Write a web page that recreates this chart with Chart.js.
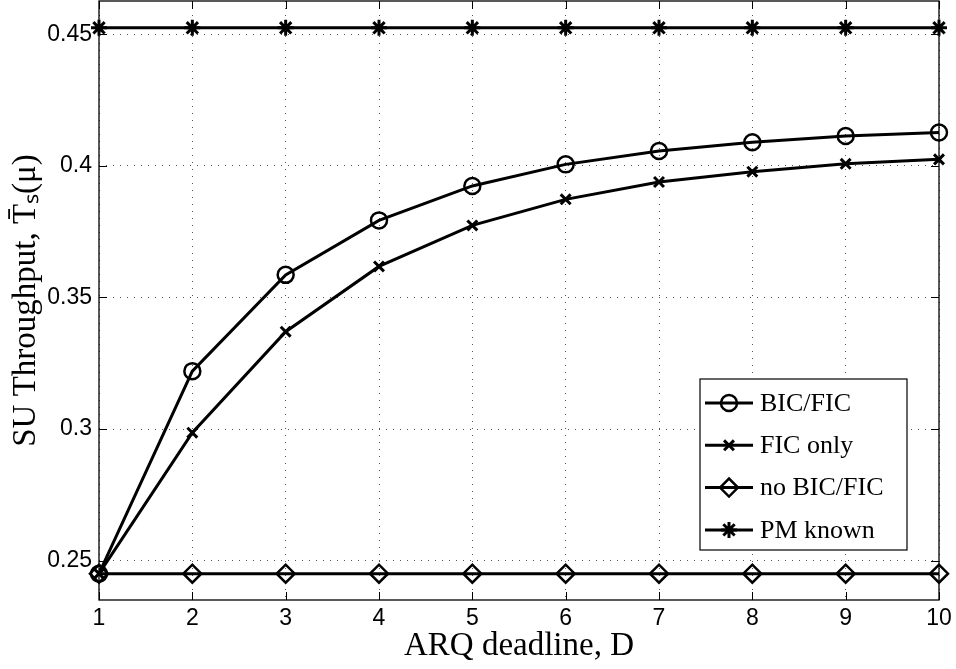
<!DOCTYPE html>
<html>
<head>
<meta charset="utf-8">
<script src="https://cdn.jsdelivr.net/npm/chart.js"></script>
<style>
html,body{margin:0;padding:0;background:#fff;}
#wrap{width:956px;height:669px;}
</style>
</head>
<body>
<div id="wrap"><canvas id="c" width="956" height="669"></canvas></div>
<script>
// ---- data ----
const deadlines = [1, 2, 3, 4, 5, 6, 7, 8, 9, 10];
const bicFic   = [0.245, 0.322, 0.3586, 0.3793, 0.3924, 0.4006, 0.4057, 0.409, 0.4114, 0.4127];
const ficOnly  = [0.245, 0.2986, 0.337, 0.3618, 0.3774, 0.3873, 0.3939, 0.3978, 0.4008, 0.4025];
const noBicFic = [0.245, 0.245, 0.245, 0.245, 0.245, 0.245, 0.245, 0.245, 0.245, 0.245];
const pmKnown  = [0.4525, 0.4525, 0.4525, 0.4525, 0.4525, 0.4525, 0.4525, 0.4525, 0.4525, 0.4525];
const seriesNames = ['BIC/FIC', 'FIC only', 'no BIC/FIC', 'PM known'];
const xTickLabels = ['1', '2', '3', '4', '5', '6', '7', '8', '9', '10'];
const yTickValues = [0.25, 0.3, 0.35, 0.4, 0.45];
const yTickLabels = ['0.25', '0.3', '0.35', '0.4', '0.45'];
const xTitle = 'ARQ deadline, D';
const yTitle = 'SU Throughput, T\u0304\u209B(\u03BC)';

const TICK_FONT = "'Liberation Sans', Arial, sans-serif";
const SERIF = "'Liberation Serif', 'Times New Roman', serif";

function pts(arr) { return deadlines.map((d, i) => ({ x: d, y: arr[i] })); }

const styles = [
  { pointStyle: 'circle',   pointRadius: 8, pointBorderWidth: 2.5 },
  { pointStyle: 'crossRot', pointRadius: 7, pointBorderWidth: 3 },
  { pointStyle: 'rectRot',  pointRadius: 9, pointBorderWidth: 2.5 },
  { pointStyle: 'star',     pointRadius: 8, pointBorderWidth: 3 }
];
const seriesData = [bicFic, ficOnly, noBicFic, pmKnown];

const datasets = seriesData.map((arr, i) => Object.assign({
  label: seriesNames[i],
  data: pts(arr),
  borderColor: '#000',
  borderWidth: 3,
  pointBorderColor: '#000',
  pointBackgroundColor: 'rgba(0,0,0,0)',
  tension: 0,
  fill: false,
  clip: false
}, styles[i]));

// draw a marker for the custom legend
function marker(ctx, style, r, lw, x, y) {
  ctx.save();
  ctx.lineWidth = lw;
  ctx.strokeStyle = '#000';
  ctx.beginPath();
  if (style === 'circle') {
    ctx.arc(x, y, r, 0, Math.PI * 2);
  } else if (style === 'rectRot') {
    ctx.moveTo(x - r, y); ctx.lineTo(x, y - r); ctx.lineTo(x + r, y); ctx.lineTo(x, y + r); ctx.closePath();
  } else if (style === 'crossRot') {
    const o = r * Math.SQRT1_2;
    ctx.moveTo(x - o, y - o); ctx.lineTo(x + o, y + o);
    ctx.moveTo(x - o, y + o); ctx.lineTo(x + o, y - o);
  } else if (style === 'star') {
    const o = r * Math.SQRT1_2;
    ctx.moveTo(x - o, y - o); ctx.lineTo(x + o, y + o);
    ctx.moveTo(x - o, y + o); ctx.lineTo(x + o, y - o);
    ctx.moveTo(x, y - r); ctx.lineTo(x, y + r);
    ctx.moveTo(x - r, y); ctx.lineTo(x + r, y);
  }
  ctx.stroke();
  ctx.restore();
}

const framePlugin = {
  id: 'frame',
  beforeDatasetsDraw(chart) {
    const { ctx, chartArea: a, scales } = chart;
    const xs = scales.x, ys = scales.y;
    ctx.save();
    ctx.strokeStyle = '#000';
    ctx.lineWidth = 1;
    ctx.beginPath();
    const tl = 8;
    xs.ticks.forEach(t => {
      const px = Math.round(xs.getPixelForValue(t.value)) + 0.5;
      ctx.moveTo(px, a.bottom); ctx.lineTo(px, a.bottom - tl);
      ctx.moveTo(px, a.top); ctx.lineTo(px, a.top + tl);
    });
    ys.ticks.forEach(t => {
      const py = Math.round(ys.getPixelForValue(t.value)) + 0.5;
      ctx.moveTo(a.left, py); ctx.lineTo(a.left + tl, py);
      ctx.moveTo(a.right, py); ctx.lineTo(a.right - tl, py);
    });
    ctx.stroke();
    ctx.lineWidth = 1.3;
    ctx.strokeRect(a.left, a.top, a.right - a.left, a.bottom - a.top);
    ctx.restore();
  }
};

const legendPlugin = {
  id: 'boxLegend',
  afterDraw(chart) {
    const { ctx, chartArea: a } = chart;
    const right = a.right - 32, bottom = a.bottom - 50;
    const w = 207, h = 171;
    const left = right - w, top = bottom - h;
    ctx.save();
    ctx.fillStyle = '#fff';
    ctx.fillRect(left, top, w, h);
    ctx.strokeStyle = '#000';
    ctx.lineWidth = 1.2;
    ctx.strokeRect(left, top, w, h);
    chart.data.datasets.forEach((ds, i) => {
      const yy = top + 24 + i * 42.3;
      ctx.strokeStyle = '#000';
      ctx.lineWidth = ds.borderWidth;
      ctx.beginPath();
      ctx.moveTo(left + 5, yy); ctx.lineTo(left + 53, yy);
      ctx.stroke();
      marker(ctx, ds.pointStyle, ds.pointRadius, ds.pointBorderWidth, left + 29, yy);
      ctx.fillStyle = '#000';
      ctx.font = '26px ' + SERIF;
      ctx.textBaseline = 'middle';
      ctx.textAlign = 'left';
      ctx.fillText(ds.label, left + 60, yy + 1);
    });
    ctx.restore();
  }
};

function fixY(s) { s.width = 99; s.paddingTop = 0; s.paddingBottom = 0; s.paddingLeft = 0; s.paddingRight = 0; }
function fixX(s) { s.height = 69; s.paddingTop = 0; s.paddingBottom = 0; s.paddingLeft = 0; s.paddingRight = 0; }

new Chart(document.getElementById('c'), {
  type: 'line',
  data: { datasets },
  options: {
    responsive: false,
    animation: false,
    devicePixelRatio: 1,
    layout: { autoPadding: false, padding: { left: 0, right: 17, top: 1, bottom: 0 } },
    plugins: { legend: { display: false }, tooltip: { enabled: false } },
    scales: {
      x: {
        type: 'linear',
        min: 1, max: 10,
        afterBuildTicks: s => { s.ticks = deadlines.map(v => ({ value: v })); },
        afterFit: fixX,
        ticks: {
          callback: (v, i) => xTickLabels[i],
          font: { family: TICK_FONT, size: 23 },
          color: '#000', padding: 5, maxRotation: 0, autoSkip: false
        },
        grid: { color: '#555', lineWidth: 1, drawTicks: false, borderDash: [1, 6] },
        border: { display: false, dash: [1, 6] },
        title: {
          display: true, text: xTitle, color: '#000',
          font: { family: SERIF, size: 33, lineHeight: 1 },
          padding: { top: 0, bottom: 6 }
        }
      },
      y: {
        type: 'linear',
        min: 0.235, max: 0.4627,
        afterBuildTicks: s => { s.ticks = yTickValues.map(v => ({ value: v })); },
        afterFit: fixY,
        ticks: {
          callback: (v, i) => yTickLabels[i],
          font: { family: TICK_FONT, size: 23 },
          color: '#000', padding: 7, autoSkip: false
        },
        grid: { color: '#555', lineWidth: 1, drawTicks: false, borderDash: [1, 6] },
        border: { display: false, dash: [1, 6] },
        title: {
          display: true, text: yTitle, color: '#000',
          font: { family: SERIF, size: 33, lineHeight: 1 },
          padding: { top: 10, bottom: 0 }
        }
      }
    }
  },
  plugins: [framePlugin, legendPlugin]
});
</script>
</body>
</html>
